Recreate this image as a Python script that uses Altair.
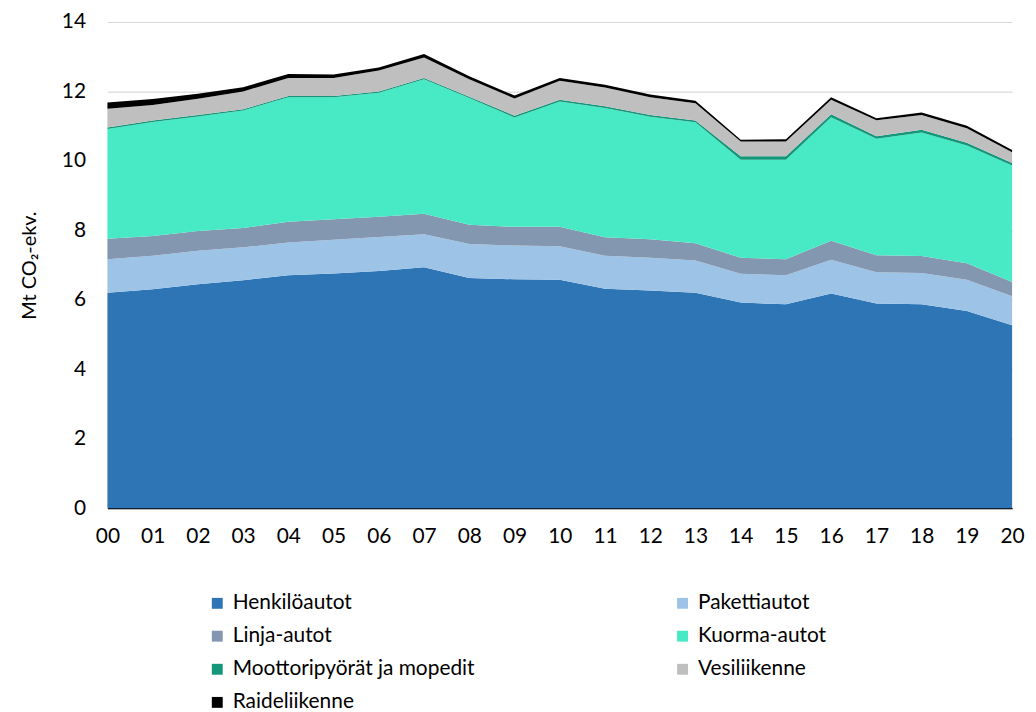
import altair as alt
import pandas as pd

years = list(range(0, 21))
series = ["Henkilöautot", "Pakettiautot", "Linja-autot", "Kuorma-autot",
          "Moottoripyörät ja mopedit", "Vesiliikenne", "Raideliikenne"]
colors = ["#2E75B6", "#9DC3E6", "#8497B0", "#47EAC4", "#14967A", "#BFBFBF", "#000000"]

henkiloautot = [6.20, 6.30, 6.45, 6.56, 6.71, 6.76, 6.83, 6.94, 6.63, 6.59, 6.58,
                6.32, 6.27, 6.20, 5.92, 5.87, 6.18, 5.89, 5.87, 5.68, 5.27]
pakettiautot = [0.97, 0.97, 0.96, 0.95, 0.94, 0.97, 0.98, 0.95, 0.98, 0.97, 0.96,
                0.95, 0.94, 0.93, 0.83, 0.84, 0.97, 0.90, 0.90, 0.90, 0.83]
linja_autot = [0.59, 0.57, 0.57, 0.56, 0.60, 0.59, 0.58, 0.59, 0.55, 0.54, 0.56,
               0.53, 0.53, 0.50, 0.46, 0.46, 0.55, 0.49, 0.49, 0.47, 0.41]
kuorma_autot = [3.16, 3.28, 3.30, 3.38, 3.58, 3.51, 3.57, 3.87, 3.65, 3.15, 3.61,
                3.72, 3.53, 3.48, 2.82, 2.86, 3.56, 3.36, 3.56, 3.39, 3.36]
moottoripyorat = [0.04, 0.04, 0.04, 0.04, 0.04, 0.04, 0.04, 0.04, 0.04, 0.05, 0.05,
                  0.05, 0.05, 0.05, 0.10, 0.10, 0.08, 0.07, 0.08, 0.08, 0.07]
vesiliikenne = [0.54, 0.45, 0.47, 0.51, 0.52, 0.52, 0.60, 0.59, 0.50, 0.50, 0.55,
                0.54, 0.51, 0.50, 0.43, 0.43, 0.42, 0.46, 0.42, 0.42, 0.31]
raideliikenne = [0.18, 0.17, 0.14, 0.12, 0.11, 0.10, 0.09, 0.10, 0.09, 0.08, 0.08,
                 0.08, 0.08, 0.07, 0.05, 0.06, 0.07, 0.06, 0.07, 0.07, 0.06]

values = [henkiloautot, pakettiautot, linja_autot, kuorma_autot,
          moottoripyorat, vesiliikenne, raideliikenne]

rows = []
for i, (name, vals) in enumerate(zip(series, values)):
    for y, v in zip(years, vals):
        rows.append({"vuosi": y, "sarja": name, "arvo": v, "idx": i})
df = pd.DataFrame(rows)

FONT = "Lato"

chart = alt.Chart(df).mark_area(opacity=1).encode(
    x=alt.X("vuosi:Q",
            scale=alt.Scale(domain=[0, 20], nice=False, zero=False),
            axis=alt.Axis(values=years, title=None, grid=False, ticks=False,
                          labelExpr="datum.value < 10 ? '0' + datum.value : '' + datum.value",
                          labelFontSize=21, labelColor="#000000", labelPadding=18,
                          labelFlush=False, labelOverlap=False,
                          domainColor="#000000", domainWidth=1.5, labelFont=FONT)),
    y=alt.Y("arvo:Q", stack="zero",
            scale=alt.Scale(domain=[0, 14], nice=False),
            axis=alt.Axis(values=[0, 2, 4, 6, 8, 10, 12, 14], title="Mt CO₂-ekv.",
                          domain=False, ticks=False, gridColor="#D9D9D9", gridWidth=1.2,
                          labelFontSize=21, labelColor="#000000", labelPadding=22,
                          titleFontSize=20, titleFontWeight="normal", titleColor="#000000",
                          titlePadding=22, labelFont=FONT, titleFont=FONT)),
    color=alt.Color("sarja:N",
                    scale=alt.Scale(domain=series, range=colors),
                    legend=alt.Legend(title=None, orient="none", legendX=100, legendY=574,
                                      direction="horizontal",
                                      columns=2, columnPadding=198, rowPadding=11.3,
                                      symbolType="square", symbolSize=120,
                                      symbolStrokeWidth=0, labelFontSize=21,
                                      labelColor="#000000", labelOffset=5,
                                      labelFont=FONT, labelLimit=400)),
    order=alt.Order("idx:Q", sort="ascending"),
).properties(
    width=910, height=489,
    autosize=alt.AutoSizeParams(type="none"),
    padding={"left": 100, "top": 12, "right": 16, "bottom": 204},
).configure_view(stroke=None)

chart.save("out.html", embed_options={"renderer": "svg", "actions": False})
